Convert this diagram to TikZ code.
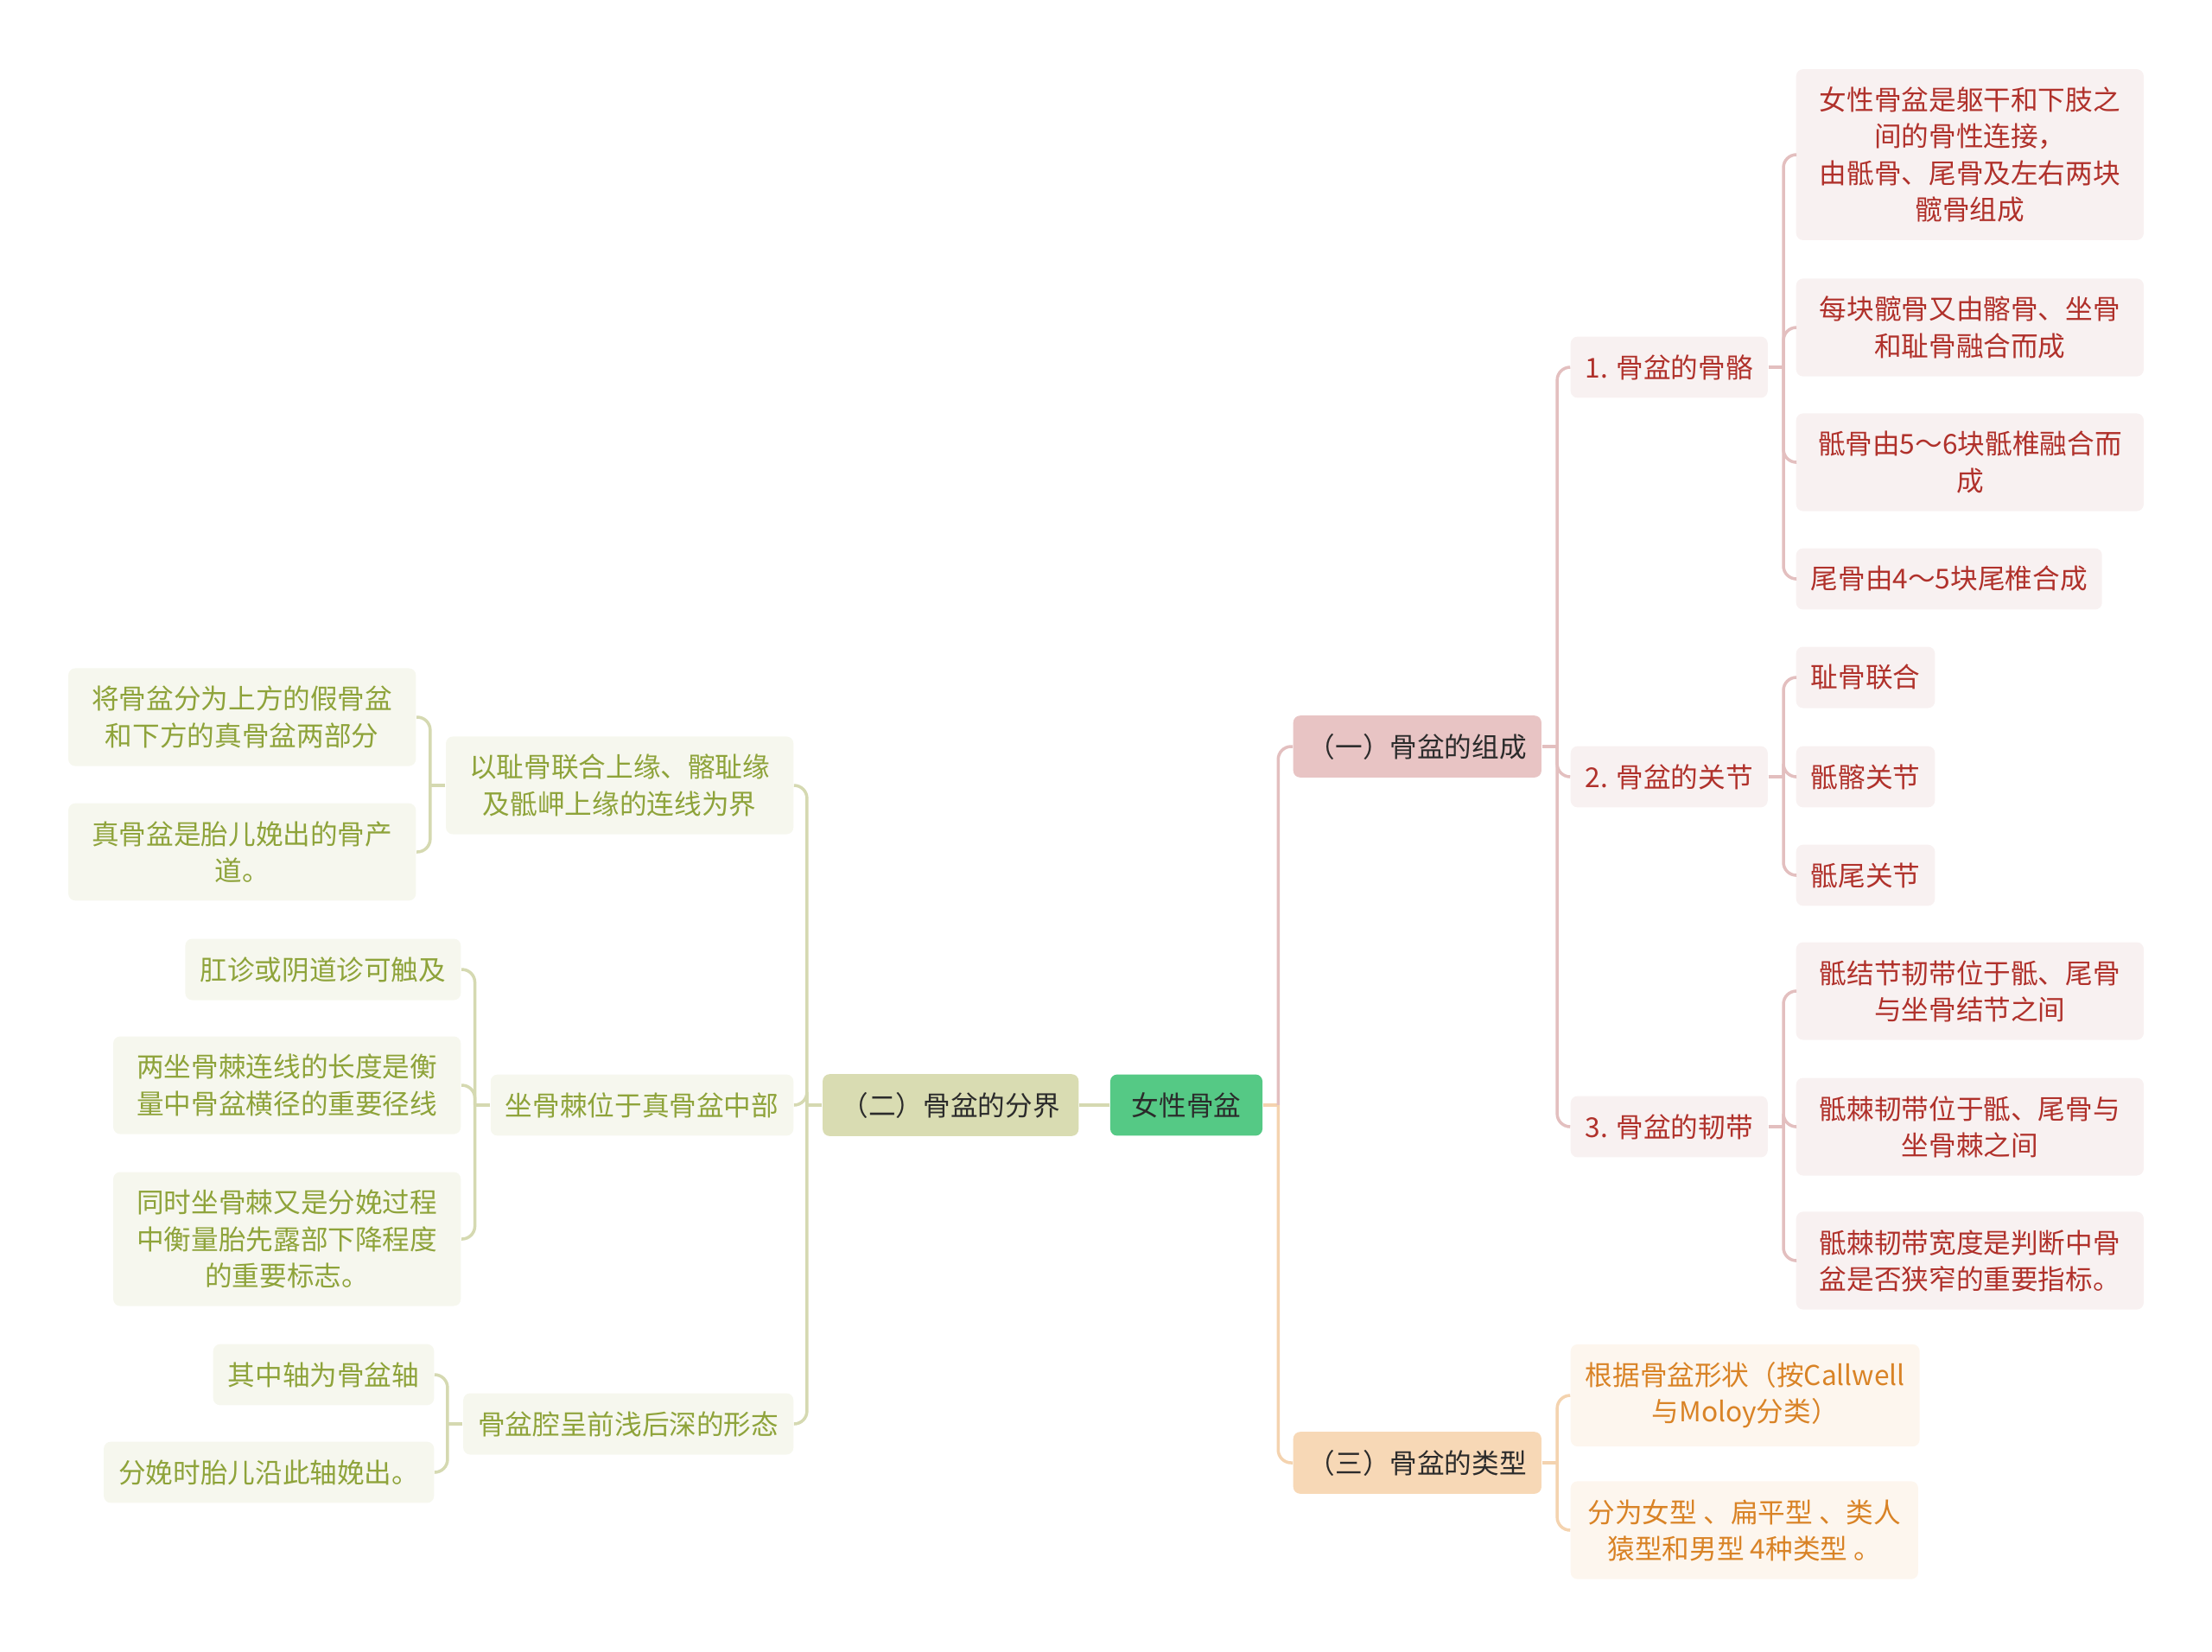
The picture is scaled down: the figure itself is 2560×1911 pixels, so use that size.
\documentclass[tikz,border=0pt]{standalone}
\usepackage{fontspec}
\setmainfont{Noto Sans CJK SC}
\usepackage{xcolor}
\usepackage{tikz}
\definecolor{rootc}{HTML}{55C985}
\definecolor{inkc}{HTML}{2B2B2B}
\definecolor{pinkc}{HTML}{E8C4C4}
\definecolor{pinkpalec}{HTML}{F8F1F1}
\definecolor{pinkinkc}{HTML}{B0312B}
\definecolor{pinklnc}{HTML}{E3BFBF}
\definecolor{orangec}{HTML}{F7D8B6}
\definecolor{orangepalec}{HTML}{FDF6EE}
\definecolor{orangeinkc}{HTML}{D98326}
\definecolor{orangelnc}{HTML}{F4D3AF}
\definecolor{olivec}{HTML}{D9DCB2}
\definecolor{olivepalec}{HTML}{F6F7EE}
\definecolor{oliveinkc}{HTML}{8EA33A}
\definecolor{olivelnc}{HTML}{D5D9B1}

\begin{document}
\begin{tikzpicture}[x=0.01cm, y=-0.01cm, font=\fontsize{9}{12}\selectfont,
  box/.style={rounded corners=0.8mm, inner xsep=0.17cm, inner ysep=5.9pt, align=center},
  rootbox/.style={box, fill=rootc, text=inkc, minimum width=1.76cm},
  pinkmain/.style={box, fill=pinkc, text=inkc, minimum width=2.87cm},
  pinksub/.style={box, fill=pinkpalec, text=pinkinkc},
  orangemain/.style={box, fill=orangec, text=inkc, minimum width=2.87cm},
  orangesub/.style={box, fill=orangepalec, text=orangeinkc},
  olivemain/.style={box, fill=olivec, text=inkc, minimum width=2.96cm},
  olivesub/.style={box, fill=olivepalec, text=oliveinkc},
  wide/.style={minimum width=4.02cm},
  pinkln/.style={draw=pinklnc, line width=1pt, rounded corners=1.5mm},
  orangeln/.style={draw=orangelnc, line width=1pt, rounded corners=1.5mm},
  oliveln/.style={draw=olivelnc, line width=1pt, rounded corners=1.5mm}]
\useasboundingbox (0,0) rectangle (2560,1911);

\node[rootbox] (nvxing) at (1373,1279) {女性骨盆};

\node[pinkmain, anchor=west] (zucheng) at (1496,864) {（一）骨盆的组成};
\node[orangemain, anchor=west] (leixing) at (1496,1693) {（三）骨盆的类型};
\node[olivemain, anchor=east] (fenjie) at (1249,1279) {（二）骨盆的分界};

\node[pinksub, anchor=west] (guge) at (1817,425) {1. 骨盆的骨骼};
\node[pinksub, anchor=west] (guanjie) at (1817,899) {2. 骨盆的关节};
\node[pinksub, anchor=west] (rendai) at (1817,1304) {3. 骨盆的韧带};

\node[pinksub, wide, anchor=west] (guge1) at (2078,179) {女性骨盆是躯干和下肢之\\间的骨性连接，\\由骶骨、尾骨及左右两块\\髋骨组成};
\node[pinksub, wide, anchor=west] (guge2) at (2078,379) {每块髋骨又由髂骨、坐骨\\和耻骨融合而成};
\node[pinksub, wide, anchor=west] (guge3) at (2078,535) {骶骨由5～6块骶椎融合而\\成};
\node[pinksub, anchor=west] (guge4) at (2078,670) {尾骨由4～5块尾椎合成};

\node[pinksub, anchor=west] (guanjie1) at (2078,784) {耻骨联合};
\node[pinksub, anchor=west] (guanjie2) at (2078,899) {骶髂关节};
\node[pinksub, anchor=west] (guanjie3) at (2078,1013) {骶尾关节};

\node[pinksub, wide, anchor=west] (rendai1) at (2078,1147) {骶结节韧带位于骶、尾骨\\与坐骨结节之间};
\node[pinksub, wide, anchor=west] (rendai2) at (2078,1304) {骶棘韧带位于骶、尾骨与\\坐骨棘之间};
\node[pinksub, wide, anchor=west] (rendai3) at (2078,1459) {骶棘韧带宽度是判断中骨\\盆是否狭窄的重要指标。};

\node[orangesub, wide, anchor=west] (leixing1) at (1817,1615) {根据骨盆形状（按Callwell\\与Moloy分类）};
\node[orangesub, wide, anchor=west] (leixing2) at (1817,1771) {分为女型 、扁平型 、类人\\猿型和男型 4种类型 。};

\node[olivesub, wide, anchor=east] (jiexian) at (919,909) {以耻骨联合上缘、髂耻缘\\及骶岬上缘的连线为界};
\node[olivesub, anchor=east] (zuogu) at (919,1279) {坐骨棘位于真骨盆中部};
\node[olivesub, anchor=east] (penqiang) at (919,1648) {骨盆腔呈前浅后深的形态};

\node[olivesub, wide, anchor=east] (jiexian1) at (482,830) {将骨盆分为上方的假骨盆\\和下方的真骨盆两部分};
\node[olivesub, wide, anchor=east] (jiexian2) at (482,986) {真骨盆是胎儿娩出的骨产\\道。};

\node[olivesub, anchor=east] (zuogu1) at (534,1122) {肛诊或阴道诊可触及};
\node[olivesub, wide, anchor=east] (zuogu2) at (534,1256) {两坐骨棘连线的长度是衡\\量中骨盆横径的重要径线};
\node[olivesub, wide, anchor=east] (zuogu3) at (534,1434) {同时坐骨棘又是分娩过程\\中衡量胎先露部下降程度\\的重要标志。};

\node[olivesub, anchor=east] (penqiang1) at (503,1591) {其中轴为骨盆轴};
\node[olivesub, anchor=east] (penqiang2) at (503,1704) {分娩时胎儿沿此轴娩出。};

\draw[orangeln] (nvxing.east) -- ++(17.5,0) coordinate (t0);
\draw[pinkln] (t0) |- (zucheng.west);
\draw[orangeln] (t0) |- (leixing.west);
\draw[oliveln] (nvxing.west) -- (fenjie.east);

\draw[pinkln] (zucheng.east) -- ++(17.5,0) coordinate (t1);
\draw[pinkln] (t1) |- (guge.west);
\draw[pinkln] (t1) |- (guanjie.west);
\draw[pinkln] (t1) |- (rendai.west);

\draw[pinkln] (guge.east) -- ++(17.5,0) coordinate (t2);
\draw[pinkln] (t2) |- (guge1.west);
\draw[pinkln] (t2) |- (guge2.west);
\draw[pinkln] (t2) |- (guge3.west);
\draw[pinkln] (t2) |- (guge4.west);

\draw[pinkln] (guanjie.east) -- ++(17.5,0) coordinate (t3);
\draw[pinkln] (t3) |- (guanjie1.west);
\draw[pinkln] (t3) |- (guanjie2.west);
\draw[pinkln] (t3) |- (guanjie3.west);

\draw[pinkln] (rendai.east) -- ++(17.5,0) coordinate (t4);
\draw[pinkln] (t4) |- (rendai1.west);
\draw[pinkln] (t4) |- (rendai2.west);
\draw[pinkln] (t4) |- (rendai3.west);

\draw[orangeln] (leixing.east) -- ++(17.5,0) coordinate (t5);
\draw[orangeln] (t5) |- (leixing1.west);
\draw[orangeln] (t5) |- (leixing2.west);

\draw[oliveln] (fenjie.west) -- ++(-17.5,0) coordinate (t6);
\draw[oliveln] (t6) |- (jiexian.east);
\draw[oliveln] (t6) |- (zuogu.east);
\draw[oliveln] (t6) |- (penqiang.east);

\draw[oliveln] (jiexian.west) -- ++(-17.5,0) coordinate (t7);
\draw[oliveln] (t7) |- (jiexian1.east);
\draw[oliveln] (t7) |- (jiexian2.east);

\draw[oliveln] (zuogu.west) -- ++(-17.5,0) coordinate (t8);
\draw[oliveln] (t8) |- (zuogu1.east);
\draw[oliveln] (t8) |- (zuogu2.east);
\draw[oliveln] (t8) |- (zuogu3.east);

\draw[oliveln] (penqiang.west) -- ++(-17.5,0) coordinate (t9);
\draw[oliveln] (t9) |- (penqiang1.east);
\draw[oliveln] (t9) |- (penqiang2.east);
\end{tikzpicture}
\end{document}
